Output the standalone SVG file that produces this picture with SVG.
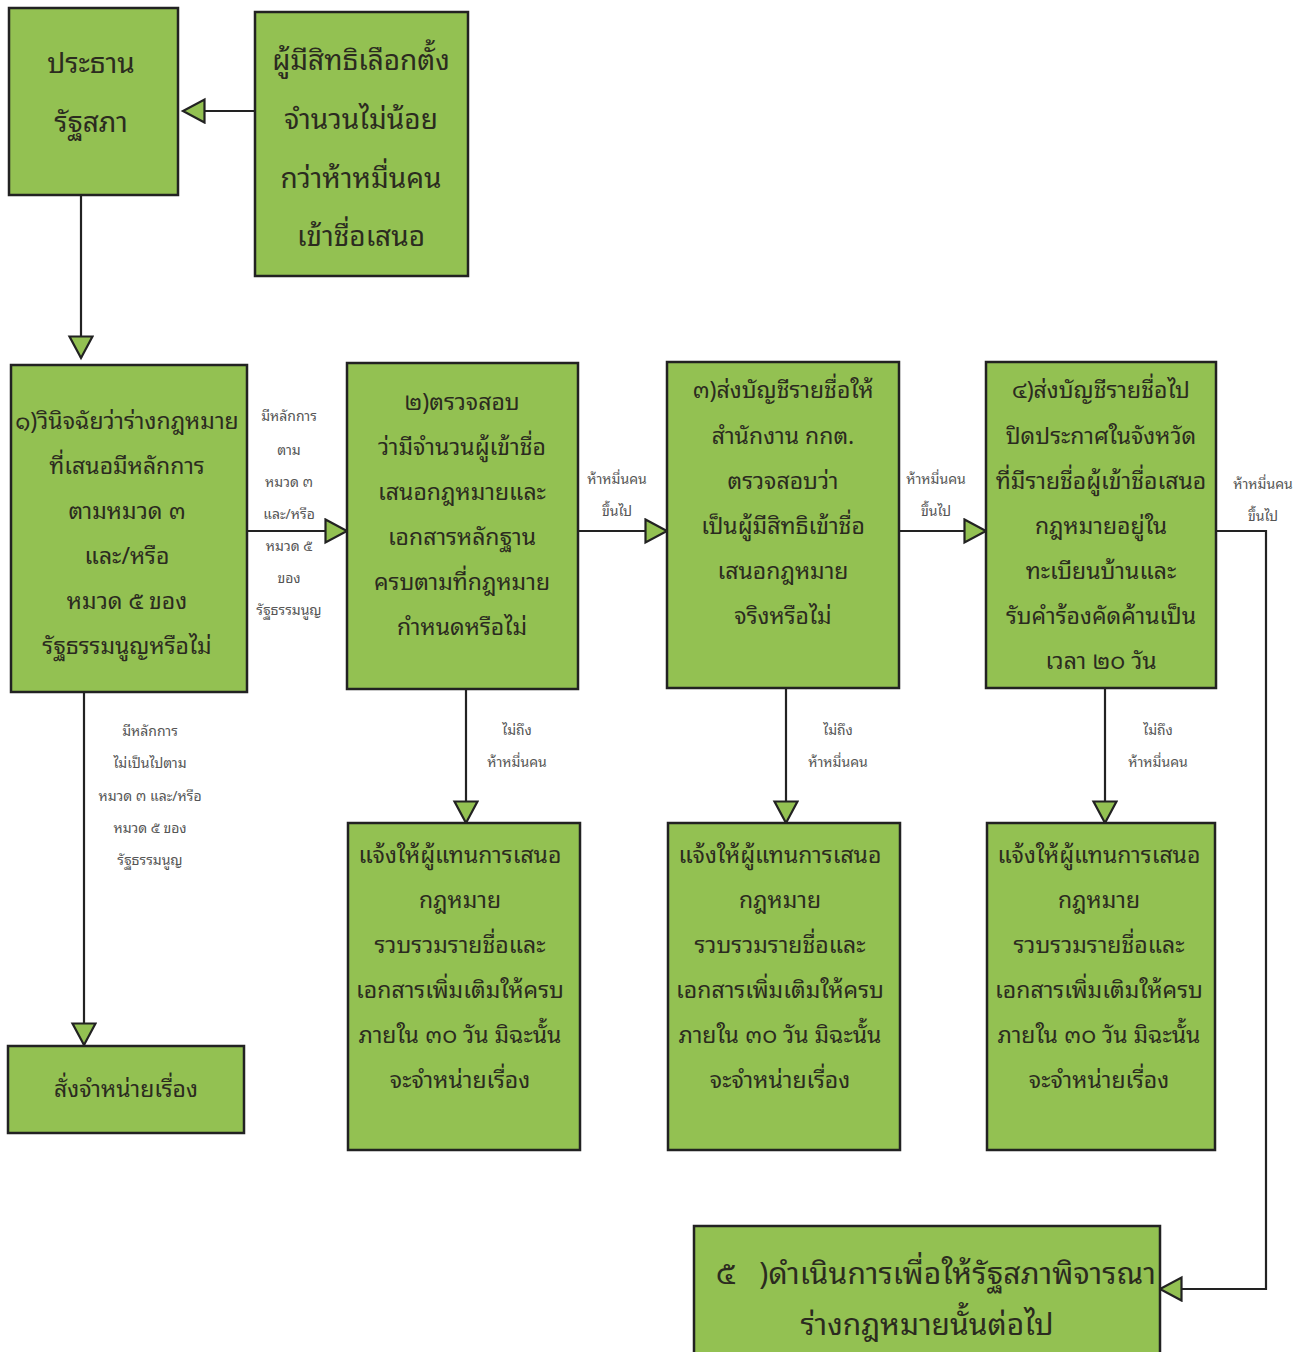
<svg xmlns="http://www.w3.org/2000/svg" width="1311" height="1352" viewBox="0 0 1311 1352">
<style>
.box{fill:#93c152;stroke:#222;stroke-width:2.5}
.t{font-family:"Noto Sans Thai Looped","Loma","Garuda","Noto Sans Thai","Noto Sans","DejaVu Sans",sans-serif;fill:#2b2b1f;text-anchor:middle;font-size:23px}
.big{font-size:28px}
.lbl{font-family:"Noto Sans Thai Looped","Loma","Garuda","Noto Sans Thai","Noto Sans","DejaVu Sans",sans-serif;fill:#555;text-anchor:middle;font-size:14px}
.c{fill:none;stroke:#222;stroke-width:2.2}
</style>
<defs>
<marker id="ah" markerUnits="userSpaceOnUse" markerWidth="26" markerHeight="28" refX="23" refY="13" orient="auto" viewBox="0 0 26 28">
<path d="M1.5,1.5 L23,13 L1.5,24.5 Z" fill="#93c152" stroke="#222" stroke-width="2.2"/>
</marker>
</defs>
<rect width="1311" height="1352" fill="#fff"/>

<g id="connectors">
<path class="c" d="M255,111 H183" marker-end="url(#ah)"/>
<path class="c" d="M81,195 V358" marker-end="url(#ah)"/>
<path class="c" d="M247,531 H347" marker-end="url(#ah)"/>
<path class="c" d="M578,531 H667" marker-end="url(#ah)"/>
<path class="c" d="M899,531 H986" marker-end="url(#ah)"/>
<path class="c" d="M1216,531 H1266 V1289 H1160" marker-end="url(#ah)"/>
<path class="c" d="M84,692 V1045" marker-end="url(#ah)"/>
<path class="c" d="M466,689 V823" marker-end="url(#ah)"/>
<path class="c" d="M786,688 V823" marker-end="url(#ah)"/>
<path class="c" d="M1105,688 V823" marker-end="url(#ah)"/>
</g>

<g id="labels">
<text class="lbl" x="289" y="421">มีหลักการ</text>
<text class="lbl" x="289" y="455">ตาม</text>
<text class="lbl" x="289" y="487">หมวด ๓</text>
<text class="lbl" x="289" y="519">และ/หรือ</text>
<text class="lbl" x="289" y="551">หมวด ๕</text>
<text class="lbl" x="289" y="583">ของ</text>
<text class="lbl" x="289" y="615">รัฐธรรมนูญ</text>
<text class="lbl" x="617" y="484">ห้าหมื่นคน</text>
<text class="lbl" x="617" y="516">ขึ้นไป</text>
<text class="lbl" x="936" y="484">ห้าหมื่นคน</text>
<text class="lbl" x="936" y="516">ขึ้นไป</text>
<text class="lbl" x="1263" y="489">ห้าหมื่นคน</text>
<text class="lbl" x="1263" y="521">ขึ้นไป</text>
<text class="lbl" x="150" y="736">มีหลักการ</text>
<text class="lbl" x="150" y="768">ไม่เป็นไปตาม</text>
<text class="lbl" x="150" y="801">หมวด ๓ และ/หรือ</text>
<text class="lbl" x="150" y="833">หมวด ๕ ของ</text>
<text class="lbl" x="150" y="865">รัฐธรรมนูญ</text>
<text class="lbl" x="517" y="735">ไม่ถึง</text>
<text class="lbl" x="517" y="767">ห้าหมื่นคน</text>
<text class="lbl" x="838" y="735">ไม่ถึง</text>
<text class="lbl" x="838" y="767">ห้าหมื่นคน</text>
<text class="lbl" x="1158" y="735">ไม่ถึง</text>
<text class="lbl" x="1158" y="767">ห้าหมื่นคน</text>
</g>

<g id="node-president">
<rect class="box" x="9" y="8" width="169" height="187"/>
<text class="t big" x="91" y="73">ประธาน</text>
<text class="t big" x="91" y="132">รัฐสภา</text>
</g>

<g id="node-voters">
<rect class="box" x="255" y="12" width="213" height="264"/>
<text class="t big" x="361" y="70">ผู้มีสิทธิเลือกตั้ง</text>
<text class="t big" x="361" y="129">จำนวนไม่น้อย</text>
<text class="t big" x="361" y="188">กว่าห้าหมื่นคน</text>
<text class="t big" x="361" y="246">เข้าชื่อเสนอ</text>
</g>

<g id="node-1">
<rect class="box" x="11" y="365" width="236" height="327"/>
<text class="t" x="127" y="429">๑)วินิจฉัยว่าร่างกฎหมาย</text>
<text class="t" x="127" y="474">ที่เสนอมีหลักการ</text>
<text class="t" x="127" y="519">ตามหมวด ๓</text>
<text class="t" x="127" y="564">และ/หรือ</text>
<text class="t" x="127" y="609">หมวด ๕ ของ</text>
<text class="t" x="127" y="654">รัฐธรรมนูญหรือไม่</text>
</g>

<g id="node-2">
<rect class="box" x="347" y="363" width="231" height="326"/>
<text class="t" x="462" y="410">๒)ตรวจสอบ</text>
<text class="t" x="462" y="455">ว่ามีจำนวนผู้เข้าชื่อ</text>
<text class="t" x="462" y="500">เสนอกฎหมายและ</text>
<text class="t" x="462" y="545">เอกสารหลักฐาน</text>
<text class="t" x="462" y="590">ครบตามที่กฎหมาย</text>
<text class="t" x="462" y="635">กำหนดหรือไม่</text>
</g>

<g id="node-3">
<rect class="box" x="667" y="362" width="232" height="326"/>
<text class="t" x="783" y="398">๓)ส่งบัญชีรายชื่อให้</text>
<text class="t" x="783" y="444">สำนักงาน กกต.</text>
<text class="t" x="783" y="489">ตรวจสอบว่า</text>
<text class="t" x="783" y="534">เป็นผู้มีสิทธิเข้าชื่อ</text>
<text class="t" x="783" y="579">เสนอกฎหมาย</text>
<text class="t" x="783" y="624">จริงหรือไม่</text>
</g>

<g id="node-4">
<rect class="box" x="986" y="362" width="230" height="326"/>
<text class="t" x="1101" y="398">๔)ส่งบัญชีรายชื่อไป</text>
<text class="t" x="1101" y="444">ปิดประกาศในจังหวัด</text>
<text class="t" x="1101" y="489">ที่มีรายชื่อผู้เข้าชื่อเสนอ</text>
<text class="t" x="1101" y="534">กฎหมายอยู่ใน</text>
<text class="t" x="1101" y="579">ทะเบียนบ้านและ</text>
<text class="t" x="1101" y="624">รับคำร้องคัดค้านเป็น</text>
<text class="t" x="1101" y="669">เวลา ๒๐ วัน</text>
</g>

<g id="node-dismiss">
<rect class="box" x="8" y="1046" width="236" height="87"/>
<text class="t" x="126" y="1097">สั่งจำหน่ายเรื่อง</text>
</g>

<g id="node-2b">
<rect class="box" x="348" y="823" width="232" height="327"/>
<text class="t" x="460" y="863">แจ้งให้ผู้แทนการเสนอ</text>
<text class="t" x="460" y="908">กฎหมาย</text>
<text class="t" x="460" y="953">รวบรวมรายชื่อและ</text>
<text class="t" x="460" y="998">เอกสารเพิ่มเติมให้ครบ</text>
<text class="t" x="460" y="1043">ภายใน ๓๐ วัน มิฉะนั้น</text>
<text class="t" x="460" y="1088">จะจำหน่ายเรื่อง</text>
</g>

<g id="node-3b">
<rect class="box" x="668" y="823" width="232" height="327"/>
<text class="t" x="780" y="863">แจ้งให้ผู้แทนการเสนอ</text>
<text class="t" x="780" y="908">กฎหมาย</text>
<text class="t" x="780" y="953">รวบรวมรายชื่อและ</text>
<text class="t" x="780" y="998">เอกสารเพิ่มเติมให้ครบ</text>
<text class="t" x="780" y="1043">ภายใน ๓๐ วัน มิฉะนั้น</text>
<text class="t" x="780" y="1088">จะจำหน่ายเรื่อง</text>
</g>

<g id="node-4b">
<rect class="box" x="987" y="823" width="228" height="327"/>
<text class="t" x="1099" y="863">แจ้งให้ผู้แทนการเสนอ</text>
<text class="t" x="1099" y="908">กฎหมาย</text>
<text class="t" x="1099" y="953">รวบรวมรายชื่อและ</text>
<text class="t" x="1099" y="998">เอกสารเพิ่มเติมให้ครบ</text>
<text class="t" x="1099" y="1043">ภายใน ๓๐ วัน มิฉะนั้น</text>
<text class="t" x="1099" y="1088">จะจำหน่ายเรื่อง</text>
</g>

<g id="node-5">
<rect class="box" x="694" y="1226" width="466" height="140"/>
<text class="t big" x="716" y="1284" style="text-anchor:start;font-size:30px" textLength="440" lengthAdjust="spacing">๕&#160;&#160;&#160;)ดำเนินการเพื่อให้รัฐสภาพิจารณา</text>
<text class="t big" x="927" y="1335" style="font-size:30px">ร่างกฎหมายนั้นต่อไป</text>
</g>
</svg>
